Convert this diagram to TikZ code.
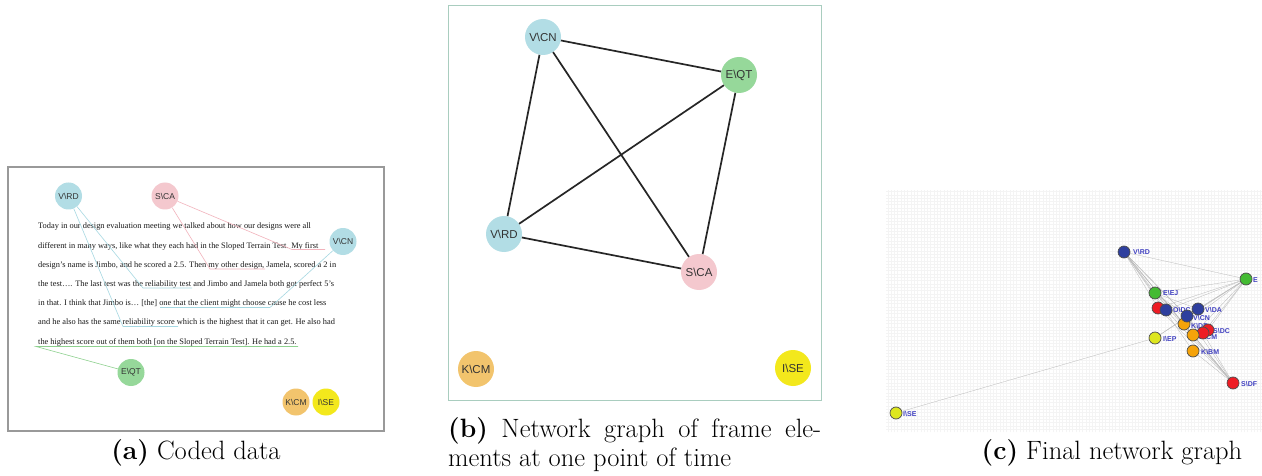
\documentclass[tikz,border=0pt]{standalone}
\usepackage{fontspec}
\newfontfamily\tnr{Liberation Serif}
\newfontfamily\arial{Liberation Sans}
\definecolor{vblue}{HTML}{B2DDE5}
\definecolor{spink}{HTML}{F4C8CE}
\definecolor{egreen}{HTML}{96D89A}
\definecolor{korange}{HTML}{F2C46D}
\definecolor{iyellow}{HTML}{F3E81C}
\definecolor{ulblue}{HTML}{A6D8E2}
\definecolor{ulpink}{HTML}{F2B3BC}
\definecolor{ulgreen}{HTML}{8ED18F}
\definecolor{frameb}{HTML}{A9CDBF}
\definecolor{cblue}{HTML}{2E3F9E}
\definecolor{cgreen}{HTML}{44BB33}
\definecolor{cred}{HTML}{EE1C24}
\definecolor{corange}{HTML}{F5A30A}
\definecolor{cyellow}{HTML}{DDE61E}
\definecolor{clabel}{HTML}{4040C0}
\tikzset{
  an/.style={circle, minimum size=27pt, inner sep=0pt, font=\arial\fontsize{8.5}{9}\selectfont, text=black!80},
  bn/.style={circle, minimum size=36pt, inner sep=0pt, font=\arial\fontsize{11.5}{12}\selectfont, text=black!80},
  cn/.style={circle, draw=black!70, line width=0.7pt, minimum size=12pt, inner sep=0pt},
  cl/.style={font=\arial\bfseries\fontsize{7}{8}\selectfont, text=clabel, anchor=west, inner sep=0pt},
  txt/.style={anchor=base west, inner sep=0pt, font=\tnr\fontsize{8.35}{9}\selectfont, text=black!90},
  bedge/.style={line width=1.7pt, black!85},
  cedge/.style={gray!55, line width=0.3pt},
  capt/.style={inner sep=0pt, font=\fontsize{26.5}{30}\selectfont},
  ulb/.style={ulblue, line width=0.6pt},
  ulp/.style={ulpink, line width=0.6pt},
  ulg/.style={ulgreen, line width=0.6pt}
}
\begin{document}
\begin{tikzpicture}[x=1pt,y=-1pt]
\useasboundingbox[fill=white] (0,0) rectangle (1262,476);

% ---------------- Panel (a)
\draw[gray!80, line width=1.2pt] (8,167) rectangle (384,431);
\node[txt] (l1) at (38,229) {Today in our design evaluation meeting we talked about how our designs were all};
\node[txt] (l2) at (38,248) {different in many ways, like what they each had in the Sloped Terrain Test. My first};
\node[txt] (l3) at (38,267) {design’s name is Jimbo, and he scored a 2.5. Then my other design, Jamela, scored a 2 in};
\node[txt] (l4) at (38,286) {the test…. The last test was the reliability test and Jimbo and Jamela both got perfect 5’s};
\node[txt] (l5) at (38,305.5) {in that. I think that Jimbo is… [the] one that the client might choose cause he cost less};
\node[txt] (l6) at (38,324.5) {and he also has the same reliability score which is the highest that it can get. He also had};
\node[txt] (l7) at (38,344) {the highest score out of them both [on the Sloped Terrain Test]. He had a 2.5.};

\node[an, fill=vblue] (ard) at (68.5,196) {V\textbackslash RD};
\node[an, fill=spink] (aca) at (165,196) {S\textbackslash CA};
\node[an, fill=vblue] (acn) at (343,241.5) {V\textbackslash CN};
\node[an, fill=egreen] (aqt) at (131,372.5) {E\textbackslash QT};
\node[an, fill=korange] (acm) at (296,402) {K\textbackslash CM};
\node[an, fill=iyellow] (ase) at (326,402) {I\textbackslash SE};

\coordinate (u2a) at (292,249.5); \coordinate (u2b) at (325,249.5);
\coordinate (u3a) at (210,269); \coordinate (u3b) at (265,269);
\coordinate (u4a) at (143,288); \coordinate (u4b) at (192,288);
\coordinate (u5a) at (160,307.5); \coordinate (u5b) at (270,307.5);
\coordinate (u6a) at (123,326.5); \coordinate (u6b) at (178,326.5);
\coordinate (u7a) at (36,346.5); \coordinate (u7b) at (298,346.5);

\draw[ulp] (aca) -- (u2a) -- (u2b);
\draw[ulp] (aca) -- (u3a) -- (u3b);
\draw[ulb] (ard) -- (u4a) -- (u4b);
\draw[ulb] (ard) -- (u6a) -- (u6b);
\draw[ulb] (acn) -- (u5b) -- (u5a);
\draw[ulg] (aqt) -- (u7a) -- (u7b);

\node[capt, anchor=base] (capa) at (196,459) {\textbf{(a)} Coded data};

% ---------------- Panel (b)
\draw[frameb, line width=1pt] (448,6) rectangle (821,400);
\node[bn, fill=vblue] (bcn) at (543,37) {V\textbackslash CN};
\node[bn, fill=egreen] (bqt) at (739,75) {E\textbackslash QT};
\node[bn, fill=vblue] (brd) at (504,234) {V\textbackslash RD};
\node[bn, fill=spink] (bca) at (699,272) {S\textbackslash CA};
\node[bn, fill=korange] (bcm) at (476,369) {K\textbackslash CM};
\node[bn, fill=iyellow] (bse) at (793,368) {I\textbackslash SE};
\draw[bedge] (bcn) -- (bqt);
\draw[bedge] (bcn) -- (brd);
\draw[bedge] (bcn) -- (bca);
\draw[bedge] (bqt) -- (brd);
\draw[bedge] (bqt) -- (bca);
\draw[bedge] (brd) -- (bca);

\node[capt, anchor=base west] (capb1) at (448,437) {\hbox to 373pt{\textbf{(b)}\hfill Network\hfill graph\hfill of\hfill frame\hfill ele-}};
\node[capt, anchor=base west] (capb2) at (448,466) {ments at one point of time};

% ---------------- Panel (c)
\fill[white] (886,190) rectangle (1262,432);
\draw[gray!9, line width=0.3pt, step=3.3pt] (886,190) grid (1262,432);

\coordinate (crdp) at (1124,252);
\coordinate (cep) at (1246,279);
\coordinate (cejp) at (1155,293);
\coordinate (cr1p) at (1158,308);
\coordinate (cb1p) at (1166,310);
\coordinate (cdap) at (1198,309);
\coordinate (ccnp) at (1187,316);
\coordinate (cdpp) at (1184,324);
\coordinate (ccmp) at (1193,335);
\coordinate (cr2p) at (1203,333);
\coordinate (cr3p) at (1208,330);
\coordinate (cepp) at (1155,338);
\coordinate (cbmp) at (1193,351);
\coordinate (cdfp) at (1233,383);
\coordinate (csep) at (896,413);

\foreach \t in {cep,cejp,cr1p,cb1p,ccnp,cdpp,ccmp,cr2p,cbmp,cdfp}
  \draw[cedge] (crdp) -- (\t);
\foreach \t in {cejp,cr1p,cb1p,cdap,ccnp,cdpp,ccmp,cr2p,cr3p,cepp}
  \draw[cedge] (cep) -- (\t);
\foreach \t in {cbmp,ccmp,ccnp,cb1p,cr1p,cejp,cdpp,cr2p}
  \draw[cedge] (cdfp) -- (\t);
\foreach \t in {cdap,ccnp,cr2p,cdpp}
  \draw[cedge] (cejp) -- (\t);
\draw[cedge] (csep) -- (cepp);
\draw[cedge] (cepp) -- (cdap);

\node[cl] (lrd) at (1133,252.5) {V\textbackslash RD};
\node[cl] (le) at (1253,280) {E};
\node[cl] (lej) at (1163,293.5) {E\textbackslash EJ};
\node[cl] (lb1) at (1173,310) {O\textbackslash DC};
\node[cl] (lda) at (1205,310) {V\textbackslash DA};
\node[cl] (lcn) at (1193,318) {V\textbackslash CN};
\node[cl] (ldp) at (1191,326) {K\textbackslash DP};
\node[cl] (ldc) at (1213,331) {S\textbackslash DC};
\node[cl] (lcm) at (1199,337) {K\textbackslash CM};
\node[cl] (lep) at (1163,339.5) {I\textbackslash EP};
\node[cl] (lbm) at (1201,352) {K\textbackslash BM};
\node[cl] (ldf) at (1241,384) {S\textbackslash DF};
\node[cl] (lse) at (903,414) {I\textbackslash SE};

\node[cn, fill=cblue] (crd) at (crdp) {};
\node[cn, fill=cgreen] (ce) at (cep) {};
\node[cn, fill=cgreen] (cej) at (cejp) {};
\node[cn, fill=cred] (cr1) at (cr1p) {};
\node[cn, fill=cblue] (cb1) at (cb1p) {};
\node[cn, fill=cblue] (cda) at (cdap) {};
\node[cn, fill=corange] (cdp) at (cdpp) {};
\node[cn, fill=cblue] (ccn) at (ccnp) {};
\node[cn, fill=cred] (cr3) at (cr3p) {};
\node[cn, fill=cred] (cr2) at (cr2p) {};
\node[cn, fill=corange] (ccm) at (ccmp) {};
\node[cn, fill=cyellow] (cep2) at (cepp) {};
\node[cn, fill=corange] (cbm) at (cbmp) {};
\node[cn, fill=cred] (cdf) at (cdfp) {};
\node[cn, fill=cyellow] (cse) at (csep) {};

\node[capt, anchor=base] (capc) at (1112,459) {\textbf{(c)} Final network graph};
\end{tikzpicture}
\end{document}
